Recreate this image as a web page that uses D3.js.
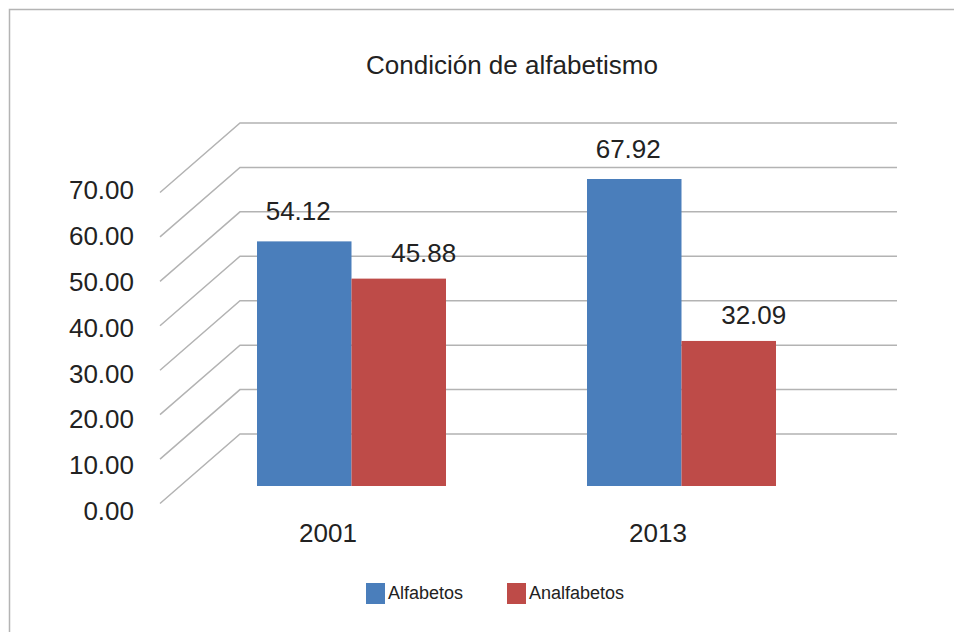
<!DOCTYPE html>
<html>
<head>
<meta charset="utf-8">
<script src="https://cdn.jsdelivr.net/npm/d3@7"></script>
<style>
	body { margin: 0; background: #fff; }
	text { font-family: "Liberation Sans", Arial, sans-serif; fill: #222; }
</style>
</head>
<body>
<div id="chart"></div>
<script>
//chart data
var years = ["2001", "2013"];
var series = ["Alfabetos", "Analfabetos"];
var alfabetos = [54.12, 67.92];
var analfabetos = [45.88, 32.09];
var ticks = [0, 10, 20, 30, 40, 50, 60, 70];
var title = "Condición de alfabetismo";

!function() {
	var width = 954,
		height = 632,
		colors = ["#4a7ebb", "#be4b48"],
		depthX = 80,
		depthY = 69.5;

	var values = [alfabetos, analfabetos];

	var svg = d3.select("#chart").append("svg")
				.attr("width", width)
				.attr("height", height);

	//outer border
	svg.append("rect")
		.attr("x", 9.5)
		.attr("y", 9.5)
		.attr("width", width + 20)
		.attr("height", height + 20)
		.attr("fill", "none")
		.attr("stroke", "#b4b4b4")
		.attr("stroke-width", 1.5);

	//title
	svg.append("text")
		.attr("x", 512)
		.attr("y", 74)
		.attr("text-anchor", "middle")
		.style("font-size", "26px")
		.text(title);

	//back wall scale and bar scale
	var yBack = d3.scaleLinear().domain([0, 70]).range([434, 123]);
	var yLabel = d3.scaleLinear().domain([0, 70]).range([511, 190]);
	var yBar = d3.scaleLinear().domain([0, 70]).range([486, 486 - 70 * 4.52]);

	var x = d3.scaleBand().domain(years).range([186, 846]);
	var xInner = d3.scaleBand().domain(series).range([71, 260]);

	//gridlines: floor diagonal then back wall
	svg.append("g").selectAll("polyline")
		.data(ticks)
		.enter()
		.append("polyline")
		.attr("points", function(d){
			var yb = yBack(d);
			return [[240 - depthX, yb + depthY], [240, yb], [897, yb]].join(" ");
		})
		.attr("fill", "none")
		.attr("stroke", "#b3b3b3")
		.attr("stroke-width", 1.5);

	//tick labels
	svg.append("g").selectAll("text")
		.data(ticks)
		.enter()
		.append("text")
		.attr("x", 134)
		.attr("y", function(d){ return yLabel(d); })
		.attr("dy", "0.35em")
		.attr("text-anchor", "end")
		.style("font-size", "26px")
		.text(function(d){ return d3.format(".2f")(d); });

	//bars
	var groups = svg.append("g").selectAll("g")
		.data(years)
		.enter()
		.append("g")
		.attr("transform", function(d){ return "translate(" + x(d) + ",0)"; });

	groups.selectAll("rect")
		.data(function(d, i){
			return series.map(function(s, j){ return {s: s, j: j, v: values[j][i]}; });
		})
		.enter()
		.append("rect")
		.attr("x", function(d){ return xInner(d.s); })
		.attr("width", xInner.bandwidth())
		.attr("y", function(d){ return yBar(d.v); })
		.attr("height", function(d){ return yBar(0) - yBar(d.v); })
		.attr("fill", function(d){ return colors[d.j]; });

	//data labels
	groups.selectAll("text")
		.data(function(d, i){
			return series.map(function(s, j){ return {s: s, j: j, v: values[j][i]}; });
		})
		.enter()
		.append("text")
		.attr("x", function(d){ return xInner(d.s) + xInner.bandwidth() / 2 + (d.j ? 25 : -6); })
		.attr("y", function(d){ return yBar(d.v) - (d.j ? 26 : 30); })
		.attr("dy", "0.35em")
		.attr("text-anchor", "middle")
		.style("font-size", "26px")
		.text(function(d){ return d3.format(".2f")(d.v); });

	//category labels
	svg.append("g").selectAll("text")
		.data(years)
		.enter()
		.append("text")
		.attr("x", function(d){ return x(d) + x.bandwidth() / 2 - 23; })
		.attr("y", 533)
		.attr("dy", "0.35em")
		.attr("text-anchor", "middle")
		.style("font-size", "26px")
		.text(function(d){ return d; });

	//legend
	var legend = svg.append("g").selectAll("g")
		.data(series)
		.enter()
		.append("g")
		.attr("transform", function(d, i){ return "translate(" + (366 + i * 141) + ",583)"; });

	legend.append("rect")
		.attr("width", 19)
		.attr("height", 21)
		.attr("fill", function(d, i){ return colors[i]; });

	legend.append("text")
		.attr("x", 22)
		.attr("y", 10)
		.attr("dy", "0.35em")
		.style("font-size", "18px")
		.text(function(d){ return d; });
}();
</script>
</body>
</html>
